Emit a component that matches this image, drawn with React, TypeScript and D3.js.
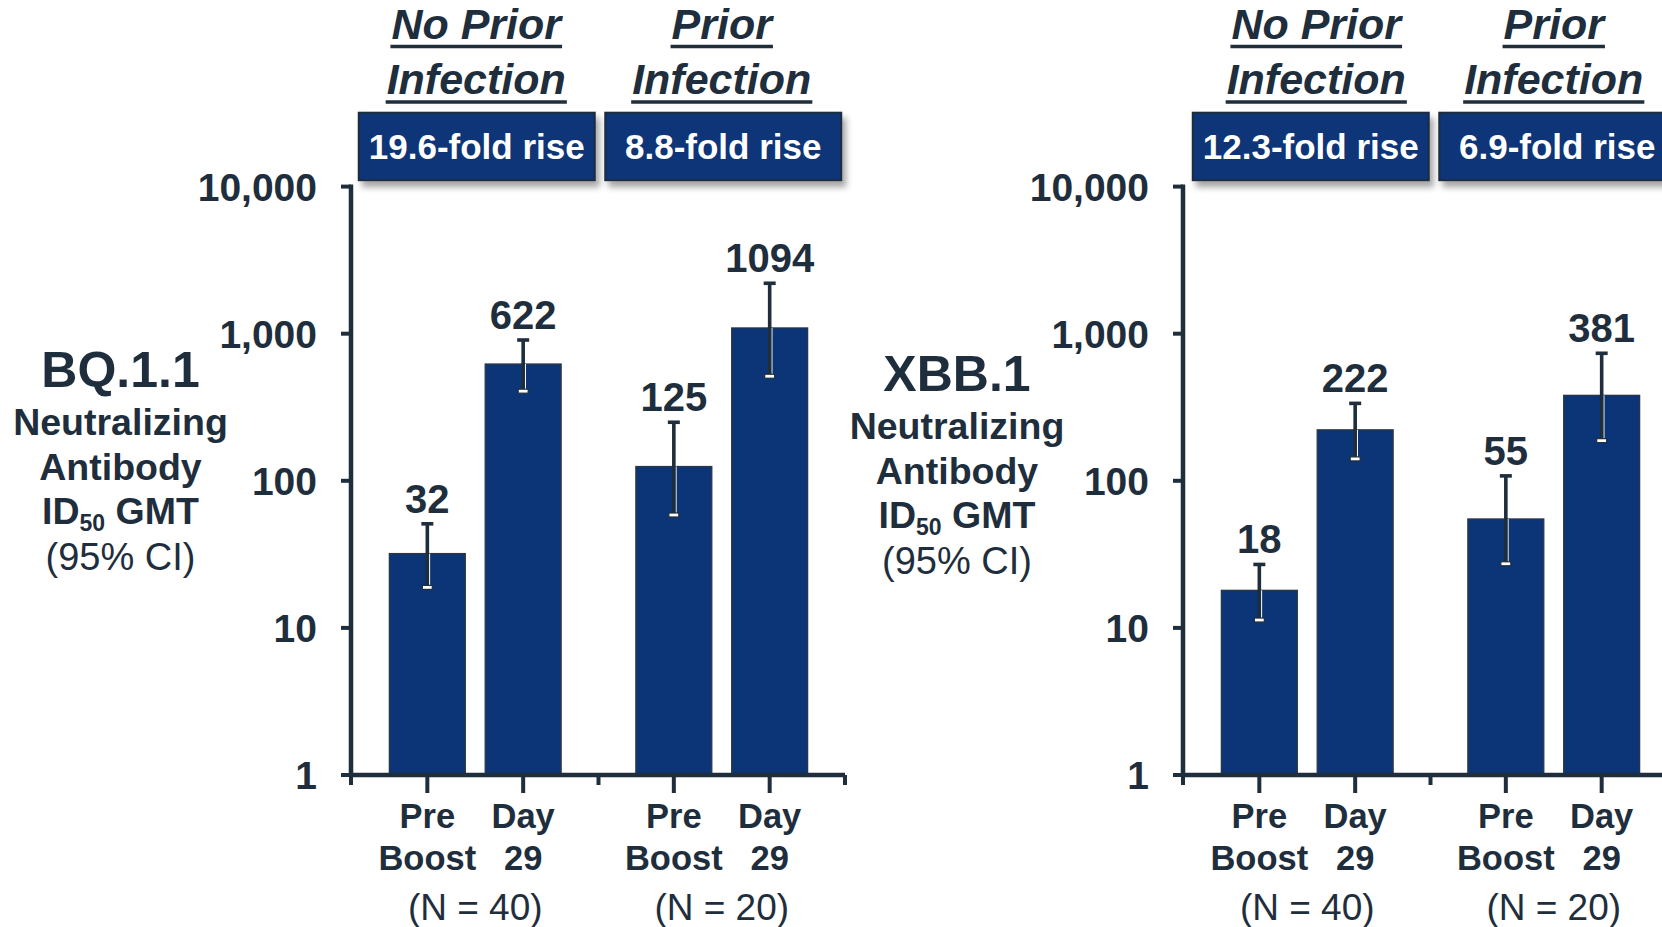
import React, { useEffect, useRef } from "react";
import * as d3 from "d3";

// ---------- data ----------
const variants = ["BQ.1.1", "XBB.1"];
const groups = ["No Prior Infection", "Prior Infection"];
const headerLines = [["No Prior", "Infection"], ["Prior", "Infection"]];
const timepoints = ["Pre Boost", "Day 29"];
const timepointLines = [["Pre", "Boost"], ["Day", "29"]];
const groupN = ["(N = 40)", "(N = 20)"];

const gmtBQ = [32, 622, 125, 1094];
const lowerBQ = [19, 410, 59, 518];
const upperBQ = [51, 906, 250, 2202];
const foldBQ = ["19.6-fold rise", "8.8-fold rise"];

const gmtXBB = [18, 222, 55, 381];
const lowerXBB = [11.4, 142, 27.5, 189];
const upperXBB = [27, 336, 108, 736];
const foldXBB = ["12.3-fold rise", "6.9-fold rise"];

const yTicks = [1, 10, 100, 1000, 10000];
const yTickLabels = ["1", "10", "100", "1,000", "10,000"];
const yTitleLines = ["Neutralizing", "Antibody"];

// ---------- layout / style ----------
const W = 1662;
const H = 927;
const NAVY = "#0b3577";
const INK = "#1f2e3c";
const FONT = "'Liberation Sans', Arial, Helvetica, sans-serif";

const panels = [
  { dx: 0, titleX: 120.5, titleDy: 0, headerShift: [1, 0], boxShift: 0, gmt: gmtBQ, lo: lowerBQ, hi: upperBQ, fold: foldBQ, name: variants[0] },
  { dx: 832, titleX: 125, titleDy: 3.5, headerShift: [9, 0], boxShift: 2, gmt: gmtXBB, lo: lowerXBB, hi: upperXBB, fold: foldXBB, name: variants[1] },
];

export default function App() {
  const ref = useRef<SVGSVGElement>(null);

  useEffect(() => {
    const svg = d3.select(ref.current);
    svg.selectAll("*").remove();

    const defs = svg.append("defs");
    const f = defs
      .append("filter")
      .attr("id", "shadow")
      .attr("x", "-10%")
      .attr("y", "-20%")
      .attr("width", "130%")
      .attr("height", "160%");
    f.append("feDropShadow")
      .attr("dx", 4)
      .attr("dy", 6)
      .attr("stdDeviation", 3)
      .attr("flood-color", "#000")
      .attr("flood-opacity", 0.35);

    const y = d3.scaleLog().domain([1, 10000]).range([775, 186.6]);
    const axisLeft = 351;
    const axisRight = 845;
    const y0 = y(1);

    panels.forEach((p) => {
      const g = svg.append("g").attr("transform", `translate(${p.dx},0)`);

      const x0 = d3.scaleBand<string>().domain(groups).range([axisLeft + 1, axisRight]);
      const x1 = d3
        .scaleBand<string>()
        .domain(timepoints)
        .range([0, x0.bandwidth()])
        .paddingInner(0.208)
        .paddingOuter(0.39);

      // y-axis title
      const tt = g.append("g").attr("font-family", FONT).attr("fill", INK).attr("text-anchor", "middle");
      tt.append("text")
        .attr("x", p.titleX)
        .attr("y", 387 + p.titleDy)
        .attr("font-size", 50)
        .attr("font-weight", "bold")
        .text(p.name);
      yTitleLines.forEach((l, i) => {
        tt.append("text")
          .attr("x", p.titleX)
          .attr("y", 435 + i * 45 + p.titleDy)
          .attr("font-size", 37.5)
          .attr("font-weight", "bold")
          .text(l);
      });
      const id = tt
        .append("text")
        .attr("x", p.titleX)
        .attr("y", 524 + p.titleDy)
        .attr("font-size", 37.5)
        .attr("font-weight", "bold");
      id.append("tspan").text("ID");
      id.append("tspan").attr("font-size", 23).attr("dy", 7).text("50");
      id.append("tspan").attr("dy", -7).text(" GMT");
      tt.append("text")
        .attr("x", p.titleX)
        .attr("y", 570 + p.titleDy)
        .attr("font-size", 38)
        .text("(95% CI)");

      // headers
      groups.forEach((grp, gi) => {
        const cx = (x0(grp) as number) + x0.bandwidth() / 2 + p.headerShift[gi];
        headerLines[gi].forEach((line, li) => {
          const by = 38.5 + li * 55.5;
          const t = g
            .append("text")
            .attr("x", cx)
            .attr("y", by)
            .attr("text-anchor", "middle")
            .attr("font-family", FONT)
            .attr("font-size", 43)
            .attr("font-weight", "bold")
            .attr("font-style", "italic")
            .attr("fill", INK)
            .text(line);
          const w = (t.node() as SVGTextElement).getComputedTextLength();
          g.append("line")
            .attr("x1", cx - w / 2 - 1)
            .attr("x2", cx + w / 2 + 1)
            .attr("y1", by + 8)
            .attr("y2", by + 8)
            .attr("stroke", INK)
            .attr("stroke-width", 3.5);
        });

        // fold box
        const bx = (x0(grp) as number) + x0.bandwidth() / 2 + 1.5 - 118 + p.boxShift;
        g.append("rect")
          .attr("x", bx)
          .attr("y", 112.7)
          .attr("width", 236)
          .attr("height", 67.5)
          .attr("fill", NAVY)
          .attr("stroke", INK)
          .attr("stroke-width", 2)
          .attr("filter", "url(#shadow)");
        g.append("text")
          .attr("x", bx + 118)
          .attr("y", 146.5)
          .attr("dy", "0.36em")
          .attr("text-anchor", "middle")
          .attr("font-family", FONT)
          .attr("font-size", 35)
          .attr("font-weight", "bold")
          .attr("fill", "#fff")
          .text(p.fold[gi]);

        // N label
        g.append("text")
          .attr("x", (x0(grp) as number) + (x1(timepoints[0]) as number) + x1.bandwidth() / 2 + x1.step() / 2)
          .attr("y", 920)
          .attr("text-anchor", "middle")
          .attr("font-family", FONT)
          .attr("font-size", 37)
          .attr("fill", INK)
          .text(groupN[gi]);
      });

      // bars, error bars, labels
      groups.forEach((grp, gi) => {
        timepoints.forEach((tp, ti) => {
          const idx = gi * 2 + ti;
          const bx = (x0(grp) as number) + (x1(tp) as number);
          const bw = x1.bandwidth();
          const cx = bx + bw / 2;
          const v = p.gmt[idx];
          g.append("rect")
            .attr("x", bx)
            .attr("y", y(v))
            .attr("width", bw)
            .attr("height", y0 - y(v))
            .attr("fill", NAVY)
            .attr("stroke", "#2a3644")
            .attr("stroke-width", 1.3);
          const yl = y(p.lo[idx]);
          const yh = y(p.hi[idx]);
          g.append("line")
            .attr("x1", cx + 2.2)
            .attr("x2", cx + 2.2)
            .attr("y1", yl)
            .attr("y2", Math.max(yh, y(v)))
            .attr("stroke", "#ffffff")
            .attr("stroke-width", 1.2);
          g.append("line")
            .attr("x1", cx)
            .attr("x2", cx)
            .attr("y1", yl)
            .attr("y2", yh)
            .attr("stroke", INK)
            .attr("stroke-width", 3.6);
          g.append("line")
            .attr("x1", cx - 6)
            .attr("x2", cx + 6)
            .attr("y1", yh)
            .attr("y2", yh)
            .attr("stroke", INK)
            .attr("stroke-width", 3.6);
          g.append("rect")
            .attr("x", cx - 5)
            .attr("y", yl - 1.5)
            .attr("width", 10)
            .attr("height", 4)
            .attr("fill", "#fff")
            .attr("stroke", INK)
            .attr("stroke-width", 1.2);
          g.append("text")
            .attr("x", cx)
            .attr("y", yh - 11)
            .attr("text-anchor", "middle")
            .attr("font-family", FONT)
            .attr("font-size", 40)
            .attr("font-weight", "bold")
            .attr("fill", INK)
            .text(String(v));

          // x tick + labels
          g.append("line")
            .attr("x1", cx)
            .attr("x2", cx)
            .attr("y1", y0)
            .attr("y2", y0 + 18)
            .attr("stroke", INK)
            .attr("stroke-width", 4);
          timepointLines[ti].forEach((l, li) => {
            g.append("text")
              .attr("x", cx)
              .attr("y", 828 + li * 42)
              .attr("text-anchor", "middle")
              .attr("font-family", FONT)
              .attr("font-size", 34.5)
              .attr("font-weight", "bold")
              .attr("fill", INK)
              .text(l);
          });
        });
      });

      // group boundary ticks
      const bounds = [axisLeft, ...groups.map((gr) => (x0(gr) as number) + x0.bandwidth())];
      bounds.forEach((bx) => {
        g.append("line")
          .attr("x1", bx)
          .attr("x2", bx)
          .attr("y1", y0)
          .attr("y2", y0 + 10)
          .attr("stroke", INK)
          .attr("stroke-width", 4);
      });

      // axes
      g.append("line")
        .attr("x1", axisLeft)
        .attr("x2", axisRight)
        .attr("y1", y0)
        .attr("y2", y0)
        .attr("stroke", INK)
        .attr("stroke-width", 4.5);
      g.append("line")
        .attr("x1", axisLeft)
        .attr("x2", axisLeft)
        .attr("y1", y(10000) - 2)
        .attr("y2", y0 + 2)
        .attr("stroke", INK)
        .attr("stroke-width", 4.5);
      yTicks.forEach((t, i) => {
        g.append("line")
          .attr("x1", axisLeft - 10)
          .attr("x2", axisLeft)
          .attr("y1", y(t))
          .attr("y2", y(t))
          .attr("stroke", INK)
          .attr("stroke-width", 4);
        g.append("text")
          .attr("x", 317)
          .attr("y", y(t))
          .attr("dy", "0.36em")
          .attr("text-anchor", "end")
          .attr("font-family", FONT)
          .attr("font-size", 39)
          .attr("font-weight", "bold")
          .attr("fill", INK)
          .text(yTickLabels[i]);
      });
    });
  }, []);

  return (
    <svg
      ref={ref}
      width={W}
      height={H}
      style={{ position: "absolute", left: 0, top: 0, background: "#fff" }}
    />
  );
}
